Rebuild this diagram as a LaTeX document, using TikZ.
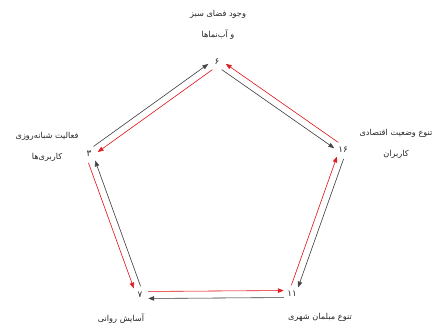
\documentclass[tikz,border=0pt]{standalone}
\usepackage{fontspec}
\newfontfamily\farsi[Script=Arabic]{DejaVu Sans}
\TeXXeTstate=1
\usetikzlibrary{calc, arrows.meta}

\definecolor{arrowred}{RGB}{226,30,36}
\definecolor{arrowgray}{RGB}{70,70,70}

\begin{document}
\begin{tikzpicture}[
        x=0.03cm, y=-0.03cm,
        >={Triangle[length=5pt, width=3.8pt]},
        vertex/.style={inner sep=1pt, font=\farsi\fontsize{7.5}{8}\selectfont, text=black!85},
        fatext/.style={align=center, inner sep=0pt, font=\farsi\fontsize{7}{18.5}\selectfont, text=black!85},
        redway/.style={->, draw=arrowred, fill=arrowred, line width=0.5pt},
        grayway/.style={->, draw=arrowgray, fill=arrowgray, line width=0.5pt}
    ]
    \useasboundingbox (0,0) rectangle (443,325);

    %% ---- Vertices (scores) ----
    \node[vertex] (T)  at (217,62)  {۶};
    \node[vertex] (R)  at (343,150) {۱۶};
    \node[vertex] (BR) at (292,294) {۱۱};
    \node[vertex] (BL) at (140,295) {۷};
    \node[vertex] (L)  at (89,154)  {۳};

    %% ---- Names ----
    \node[fatext] (Tname)  at (218,25)  {\beginR وجود فضای سبز\endR\\\beginR و آب‌نماها\endR};
    \node[fatext] (Rname)  at (396,144) {\beginR تنوع وضعیت اقتصادی\endR\\\beginR کاربران\endR};
    \node[fatext] (Lname)  at (47,147)  {\beginR فعالیت شبانه‌روزی\endR\\\beginR کاربری‌ها\endR};
    \node[fatext] (BLname) at (121,319) {\beginR آسایش روانی\endR};
    \node[fatext] (BRname) at (320,317) {\beginR تنوع مبلمان شهری\endR};

    %% ---- Top -- right ----
    \draw[grayway] ($(T)!7pt!(R)!3pt!-90:(R)$) -- ($(R)!7pt!(T)!3pt!90:(T)$);
    \draw[redway]  ($(R)!7pt!(T)!3pt!-90:(T)$) -- ($(T)!7pt!(R)!3pt!90:(R)$);

    %% ---- Top -- left ----
    \draw[grayway] ($(L)!7pt!(T)!3pt!90:(T)$) -- ($(T)!7pt!(L)!3pt!-90:(L)$);
    \draw[redway]  ($(T)!7pt!(L)!3pt!90:(L)$) -- ($(L)!7pt!(T)!3pt!-90:(T)$);

    %% ---- Left -- bottom left ----
    \draw[redway]  ($(L)!7pt!(BL)!3pt!-90:(BL)$) -- ($(BL)!7pt!(L)!3pt!90:(L)$);
    \draw[grayway] ($(BL)!7pt!(L)!3pt!-90:(L)$) -- ($(L)!7pt!(BL)!3pt!90:(BL)$);

    %% ---- Bottom ----
    \draw[redway]  ($(BL)!7pt!(BR)!3pt!90:(BR)$) -- ($(BR)!7pt!(BL)!3pt!-90:(BL)$);
    \draw[grayway] ($(BR)!7pt!(BL)!3pt!90:(BL)$) -- ($(BL)!7pt!(BR)!3pt!-90:(BR)$);

    %% ---- Bottom right -- right ----
    \draw[redway]  ($(BR)!7pt!(R)!3pt!90:(R)$) -- ($(R)!7pt!(BR)!3pt!-90:(BR)$);
    \draw[grayway] ($(R)!7pt!(BR)!3pt!90:(BR)$) -- ($(BR)!7pt!(R)!3pt!-90:(R)$);

\end{tikzpicture}
\end{document}
